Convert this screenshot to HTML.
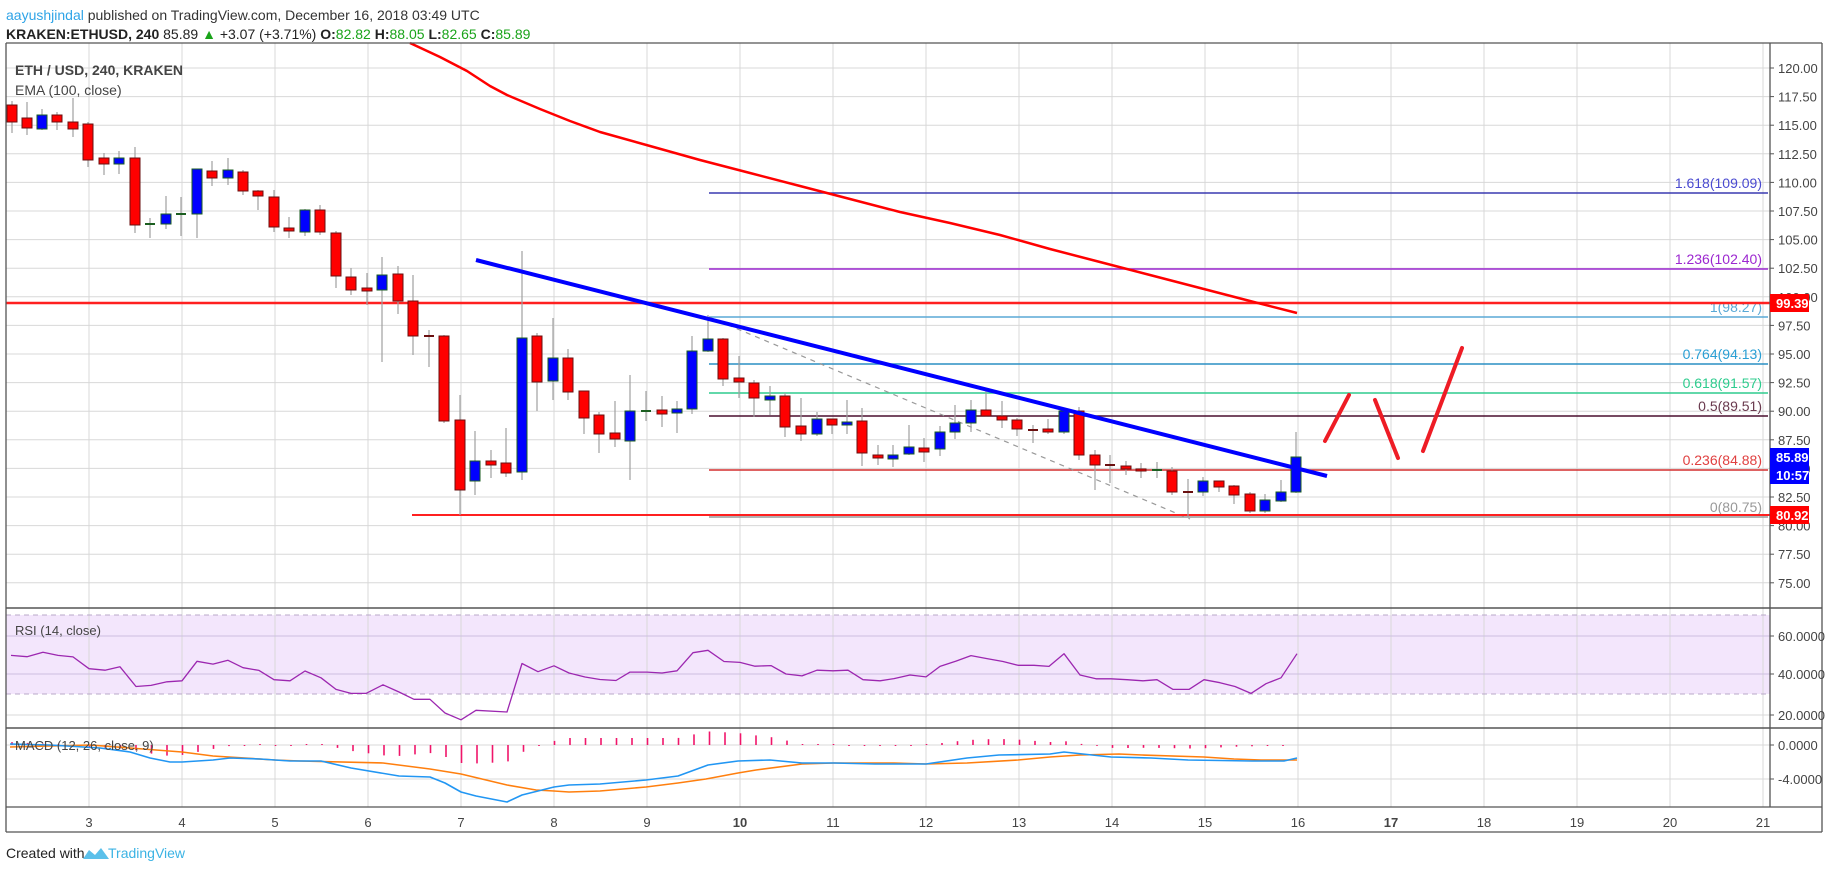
<!DOCTYPE html>
<html><head><meta charset="utf-8"><style>
html,body{margin:0;padding:0;background:#fff;width:1828px;height:869px;overflow:hidden;font-family:"Liberation Sans",sans-serif}
svg{position:absolute;left:0;top:0}
</style></head><body>
<svg id="s" width="1828" height="869" xmlns="http://www.w3.org/2000/svg"></svg>
<script>
var o=[];
function L(x1,y1,x2,y2,c,w,ex){o.push('<line x1="'+x1+'" y1="'+y1+'" x2="'+x2+'" y2="'+y2+'" stroke="'+c+'" stroke-width="'+(w||1)+'" '+(ex||'')+'/>');}
function T(x,y,t,st){o.push('<text x="'+x+'" y="'+y+'" '+st+'>'+t+'</text>');}
function P(pts,c,w){o.push('<polyline fill="none" stroke="'+c+'" stroke-width="'+w+'" stroke-linejoin="round" points="'+pts.map(function(p){return p.join(',')}).join(' ')+'"/>');}
o.push('<rect x="6" y="615" width="1764" height="79" fill="#f3e6fc"/>');
for(var d=3;d<=21;d++){var x=89+(d-3)*93;L(x,43,x,807,'#d8d8d8',1);}
for(var k=0;k<19;k++){var y=68+k*28.6;if(y<608)L(6,y,1770,y,'#d8d8d8',1);}
L(6,636,1770,636,'#cdbfe0',1);L(6,674,1770,674,'#cdbfe0',1);L(6,715,1770,715,'#d8d8d8',1);
L(6,615,1770,615,'#b8a8c8',1,'stroke-dasharray="5,4"');L(6,694,1770,694,'#b8a8c8',1,'stroke-dasharray="5,4"');
L(6,745,1770,745,'#d8d8d8',1);L(6,779,1770,779,'#d8d8d8',1);
var fib=[[193,'#3a3ab0','1.618(109.09)','#4a4ad0'],[269,'#9c27d0','1.236(102.40)','#9c27d0'],[317,'#5aa9d6','1(98.27)','#5aa9d6'],[364,'#2a8fc4','0.764(94.13)','#2a9fd4'],[393,'#2ecc8e','0.618(91.57)','#2ecc8e'],[416,'#4a0e2e','0.5(89.51)','#6a3a4e'],[470,'#d32f2f','0.236(84.88)','#e04040'],[517,'#999','0(80.75)','#999']];
fib.forEach(function(f){L(709,f[0],1768,f[0],f[1],1.5);T(1762,f[0]-5,f[2],'text-anchor="end" font-size="14" fill="'+f[3]+'"');});
L(709,317,1190,519,'#999',1.2,'stroke-dasharray="5,5"');
L(6,303,1770,303,'#ff2020',2.5);L(412,515,1770,515,'#ff2020',2);
var C=[[12,105,122,101,133,'r'],[27,118,128,102,135,'r'],[42,115,129,109,130,'b'],[57,115,122,112,130,'r'],[73,122,129,98,137,'r'],[88,124,160,122,167,'r'],[104,158,164,153,175,'r'],[119,158,164,151,174,'b'],[135,158,225,147,233,'r'],[150,224,224,218,238,'g'],[166,214,224,196,229,'b'],[181,214,214,197,236,'g'],[197,169,214,169,238,'b'],[212,171,178,161,186,'r'],[228,170,178,158,185,'b'],[243,172,191,170,195,'r'],[258,191,196,190,210,'r'],[274,197,227,190,232,'r'],[289,228,231,217,238,'r'],[305,210,232,209,236,'b'],[320,210,232,205,235,'r'],[336,233,276,231,288,'r'],[351,277,290,268,295,'r'],[367,288,291,273,305,'r'],[382,275,290,257,362,'b'],[398,274,301,266,314,'r'],[413,301,336,275,355,'r'],[429,336,336,330,367,'k'],[444,336,421,335,423,'r'],[460,420,490,395,515,'r'],[475,461,481,431,495,'b'],[491,461,465,450,478,'r'],[506,463,473,428,477,'r'],[522,338,472,251,480,'b'],[537,336,382,333,411,'r'],[553,358,381,318,400,'b'],[568,358,392,349,400,'r'],[584,391,418,391,434,'r'],[599,415,434,412,453,'r'],[615,433,439,401,447,'r'],[630,411,441,375,480,'b'],[646,411,411,391,421,'g'],[662,410,414,396,427,'r'],[677,409,413,401,433,'b'],[692,351,409,336,414,'b'],[708,339,351,315,352,'b'],[723,339,379,338,386,'r'],[739,378,382,356,398,'r'],[754,383,398,380,417,'r'],[770,396,400,386,415,'b'],[785,396,427,393,437,'r'],[801,426,434,398,441,'r'],[817,419,434,412,436,'b'],[832,419,425,419,434,'r'],[847,422,425,400,434,'b'],[862,421,453,408,466,'r'],[878,455,458,445,465,'r'],[893,455,459,445,467,'b'],[909,447,454,425,455,'b'],[924,448,452,438,462,'r'],[940,432,449,426,456,'b'],[955,423,432,405,439,'b'],[971,410,423,400,432,'b'],[986,410,416,391,417,'r'],[1002,416,420,401,428,'r'],[1017,420,429,418,436,'r'],[1033,430,430,425,443,'k'],[1048,429,432,419,434,'r'],[1064,411,432,408,434,'b'],[1079,411,455,407,460,'r'],[1095,455,465,450,490,'r'],[1110,465,466,455,483,'k'],[1126,466,469,461,475,'r'],[1141,469,471,463,478,'r'],[1157,470,471,462,478,'g'],[1172,471,492,467,495,'r'],[1188,492,492,479,517,'k'],[1203,481,492,477,496,'b'],[1219,481,487,481,492,'r'],[1234,486,495,485,504,'r'],[1250,494,511,492,513,'r'],[1265,500,511,494,513,'b'],[1281,492,501,480,502,'b'],[1296,457,492,432,493,'b']];
C.forEach(function(c){L(c[0],c[3],c[0],c[4],'#a0a0a0',1.2);
 if(c[5]=='g'||c[5]=='k'){L(c[0]-5,c[1],c[0]+5,c[1],c[5]=='g'?'#1b5e20':'#6a1010',2);}
 else{var h=Math.max(c[2]-c[1],2);o.push('<rect x="'+(c[0]-5)+'" y="'+c[1]+'" width="10" height="'+h+'" fill="'+(c[5]=='r'?'#ff0000':'#0000ff')+'" stroke="'+(c[5]=='r'?'#6a1010':'#1b5e20')+'" stroke-width="1"/>');}});
P([[410,43],[440,57],[467,71],[490,86],[507,95],[540,109],[570,121],[600,132],[650,146],[700,160],[750,173],[800,186],[850,199],[900,212],[950,223],[1000,235],[1050,249],[1100,262],[1150,275],[1200,288],[1250,301],[1297,313]],'#ff0000',2.5);
L(476,260,1327,476,'#0000ff',4);
L(1325,441,1349,395,'#ee1c25',4,'stroke-linecap="round"');L(1375,400,1398,458,'#ee1c25',4,'stroke-linecap="round"');L(1423,451,1462,348,'#ee1c25',4,'stroke-linecap="round"');
var R=[[11,49.8],[27,49.1],[43,51.4],[58,49.8],[73,49],[89,42.8],[105,42],[120,43.8],[136,33.4],[151,34],[167,35.9],[182,36.4],[197,46.7],[213,45.2],[228,47.2],[243,43.3],[259,41.9],[274,37],[290,36.4],[305,41.6],[321,38],[336,31.9],[351,29.8],[366,29.8],[383,34.3],[399,30.5],[414,26.7],[430,26.7],[445,19.5],[461,15.9],[476,20.9],[507,20],[522,45.5],[538,41.2],[554,44.3],[569,40.5],[585,38.4],[600,37.1],[616,36.6],[630,41],[647,41],[662,40.5],[677,41.7],[693,51.2],[708,52.5],[724,46.6],[740,46.1],[755,44.1],[771,44.4],[786,40],[802,39],[817,42],[833,41.7],[848,42],[863,37],[880,36.4],[894,37.6],[910,39.5],[926,38.5],[940,44],[956,46.8],[971,49.7],[987,48.1],[1003,46.6],[1018,44.6],[1034,44.6],[1049,44],[1064,50.7],[1080,39.5],[1096,37.5],[1111,37.5],[1127,37],[1143,36.4],[1157,37],[1173,31.9],[1189,31.9],[1204,37],[1220,35.4],[1235,33.4],[1251,29.8],[1266,34.9],[1281,38],[1297,50.7]];
P(R.map(function(p){return [p[0],(636+(60-p[1])*1.9).toFixed(1)]}),'#9c27b0',1.3);
var B=[[10,744],[50,745],[100,748],[130,752],[150,758],[170,762],[182,762],[213,760],[230,758],[260,759],[290,761],[321,761],[351,768],[399,776],[430,777],[445,783],[461,792],[476,796],[507,802],[522,795],[554,787],[569,785],[600,784],[646,780],[678,776],[708,765],[738,761],[770,760],[802,763],[834,763],[875,764],[926,764],[967,758],[999,755],[1050,754],[1064,752],[1111,757],[1151,758],[1188,760],[1252,761],[1284,761],[1297,758]];
var Or=[[10,747],[90,745],[130,748],[182,752],[213,756],[275,760],[300,761],[383,763],[430,769],[461,774],[507,785],[536,790],[554,791],[569,792],[600,791],[646,787],[678,783],[706,779],[738,773],[756,770],[802,764],[834,763],[894,763],[926,764],[967,763],[1018,760],[1050,757],[1080,755],[1119,754],[1142,755],[1204,757],[1234,759],[1261,760],[1297,760]];
function itp(a,x){for(var i=1;i<a.length;i++){if(x<=a[i][0]){var t=(x-a[i-1][0])/(a[i][0]-a[i-1][0]);return a[i-1][1]+t*(a[i][1]-a[i-1][1]);}}return a[a.length-1][1];}
for(var x=12;x<=1297;x+=15.5){var h=(itp(B,x)-itp(Or,x));if(Math.abs(h)<0.8)h=h<0?-1:1;L(x.toFixed(1),745,x.toFixed(1),(745+h).toFixed(1),'#f0156a',1.6);}
P(Or,'#ff7f0e',1.6);P(B,'#2196f3',1.6);
L(6,43,1822,43,'#555',1.3);L(6,43,6,832,'#555',1.3);L(1822,43,1822,832,'#555',1.3);L(6,832,1822,832,'#555',1.3);
L(1770,43,1770,807,'#555',1.3);L(6,608,1822,608,'#555',1.5);L(6,728,1822,728,'#555',1.5);L(6,807,1822,807,'#555',1.3);
var ax='font-size="13" fill="#444"';
for(var k=0;k<19;k++){var p=120-k*2.5,y=68+k*28.6;if(y<600){L(1770,y,1774,y,'#555',1);T(1778,y+5,p.toFixed(2),ax);}}
function box(y,c,t){o.push('<rect x="1770" y="'+(y-9)+'" width="39" height="18" fill="'+c+'"/>');T(1776,y+5,t,'font-size="13" font-weight="bold" fill="#fff"');}
box(303,'#ff0000','99.39');box(457,'#0000ff','85.89');box(475,'#0000ff','10:57');box(515,'#ff0000','80.92');
[[636,'60.0000'],[674,'40.0000'],[715,'20.0000'],[745,'0.0000'],[779,'-4.0000']].forEach(function(a){L(1770,a[0],1774,a[0],'#555',1);T(1778,a[0]+5,a[1],ax);});
for(var d=3;d<=21;d++){var x=89+(d-3)*93;T(x,827,d,'text-anchor="middle" font-size="13" fill="#444"'+((d==10||d==17)?' font-weight="bold"':''));}
T(15,75,'ETH / USD, 240, KRAKEN','font-size="14" font-weight="bold" fill="#444"');
T(15,95,'EMA (100, close)','font-size="14" fill="#444"');
T(15,635,'RSI (14, close)','font-size="13" fill="#444"');
T(15,750,'MACD (12, 26, close, 9)','font-size="13" fill="#444"');
T(6,20,'<tspan fill="#2fa4e7">aayushjindal</tspan> published on TradingView.com, December 16, 2018 03:49 UTC','font-size="14" fill="#333"');
T(6,39,'<tspan font-weight="bold">KRAKEN:ETHUSD, 240</tspan> 85.89 <tspan fill="#1aa31a">▲</tspan> +3.07 (+3.71%) <tspan font-weight="bold">O:</tspan><tspan fill="#1aa31a">82.82</tspan> <tspan font-weight="bold">H:</tspan><tspan fill="#1aa31a">88.05</tspan> <tspan font-weight="bold">L:</tspan><tspan fill="#1aa31a">82.65</tspan> <tspan font-weight="bold">C:</tspan><tspan fill="#1aa31a">85.89</tspan>','font-size="14" fill="#222"');
T(6,858,'Created with','font-size="14" fill="#222"');
o.push('<path d="M83 859 l6 -9 l6 5 l6 -7 l8 11 z" fill="#5bc0ea"/>');
T(108,858,'TradingView','font-size="14" fill="#3bb3e4"');
document.getElementById('s').innerHTML=o.join('');
</script>
</body></html>
